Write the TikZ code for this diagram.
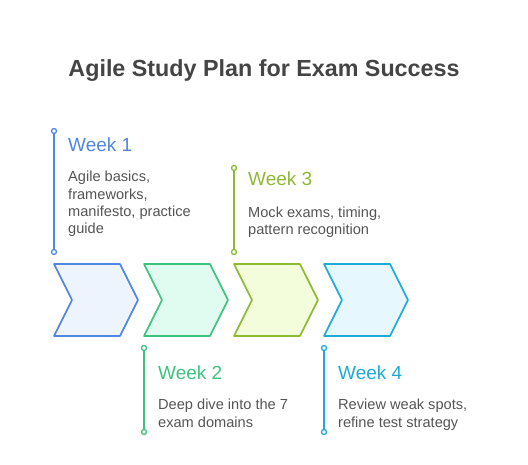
\documentclass[tikz,border=0pt]{standalone}
\usepackage{fontspec}
\setmainfont{Liberation Sans}
\usepackage{tikz}
\usetikzlibrary{positioning}
\definecolor{weekA}{HTML}{4F86E0}
\definecolor{weekAfill}{HTML}{EEF4FE}
\definecolor{weekB}{HTML}{3CC37E}
\definecolor{weekBfill}{HTML}{E0FBEF}
\definecolor{weekC}{HTML}{8DB933}
\definecolor{weekCfill}{HTML}{F3FDDC}
\definecolor{weekD}{HTML}{1DAAD8}
\definecolor{weekDfill}{HTML}{E6F8FE}
\definecolor{bodytext}{HTML}{555555}
\definecolor{titletext}{HTML}{444444}
\tikzset{
  chevron/.style={
    line width=1.6pt,
    line join=round
  },
  stem/.style={
    line width=1.6pt
  },
  stemend/.style={
    circle,
    draw,
    fill=white,
    line width=1.3pt,
    inner sep=0pt,
    minimum size=5pt
  },
  weektitle/.style={
    anchor=base west,
    inner sep=0pt,
    font=\fontsize{19}{22}\selectfont
  },
  weektext/.style={
    anchor=base west,
    inner sep=0pt,
    align=left,
    text=bodytext,
    font=\fontsize{14.6}{17.4}\selectfont
  }
}

\begin{document}
\begin{tikzpicture}[x=1pt, y=-1pt]
  \useasboundingbox (0,0) rectangle (528,465);
  % Title
  \node[anchor=base, inner sep=0pt, text=titletext, font=\bfseries\fontsize{23.3}{28}\selectfont] (title) at (264,77) {Agile Study Plan for Exam Success};

  % Chevrons
  \foreach \i/\c in {0/weekA, 1/weekB, 2/weekC, 3/weekD} {
    \draw[chevron, draw=\c, fill=\c fill] ({54+90*\i},264) -- ({120+90*\i},264) -- ({138+90*\i},300)
      -- ({120+90*\i},336) -- ({54+90*\i},336) -- ({72+90*\i},300) -- cycle;
  }

  % Stems
  \coordinate (w1top) at (54,131);
  \coordinate (w1bot) at (54,252);
  \coordinate (w2top) at (144,348);
  \coordinate (w2bot) at (144,432);
  \coordinate (w3top) at (234,168);
  \coordinate (w3bot) at (234,252);
  \coordinate (w4top) at (324,348);
  \coordinate (w4bot) at (324,432);
  \draw[stem, weekA] (w1top) -- (w1bot);
  \draw[stem, weekB] (w2top) -- (w2bot);
  \draw[stem, weekC] (w3top) -- (w3bot);
  \draw[stem, weekD] (w4top) -- (w4bot);
  \foreach \w/\c in {w1/weekA, w2/weekB, w3/weekC, w4/weekD} {
    \node[stemend, draw=\c] at (\w top) {};
    \node[stemend, draw=\c] at (\w bot) {};
  }

  % Week 1 (text anchored at its last line)
  \node[weektitle, text=weekA] (week1) at (68,152) {Week 1};
  \node[weektext] (text1) at (68,234) {Agile basics,\\frameworks,\\manifesto, practice\\guide};
  % Week 2
  \node[weektitle, text=weekB] (week2) at (158,379) {Week 2};
  \node[weektext] (text2) at (158,427) {Deep dive into the 7\\exam domains};
  % Week 3
  \node[weektitle, text=weekC] (week3) at (248,186) {Week 3};
  \node[weektext] (text3) at (248,235) {Mock exams, timing,\\pattern recognition};
  % Week 4
  \node[weektitle, text=weekD] (week4) at (338,379) {Week 4};
  \node[weektext] (text4) at (338,427) {Review weak spots,\\refine test strategy};
\end{tikzpicture}
\end{document}
